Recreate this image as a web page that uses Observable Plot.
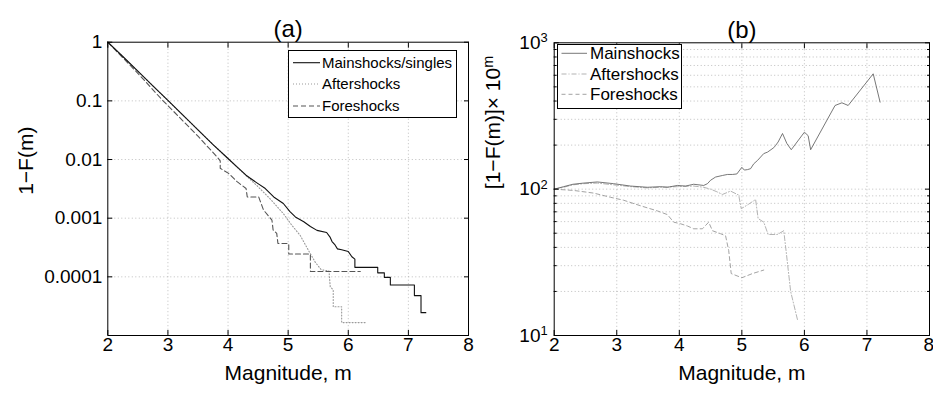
<!DOCTYPE html>
<html>
<head>
<meta charset="utf-8">
<script src="https://cdn.jsdelivr.net/npm/d3@7"></script>
<script src="https://cdn.jsdelivr.net/npm/@observablehq/plot@0.6"></script>
<style>
  html, body { margin: 0; padding: 0; background: white; }
  #wrap { position: relative; width: 933px; height: 394px; overflow: hidden; background: white;
          font-family: "Liberation Sans", Arial, Helvetica, sans-serif; }
  .panel { position: absolute; top: 0; }
  .legend { position: absolute; }
</style>
</head>
<body>
<div id="wrap"></div>
<script>
// ---------- Panel (a) data: 1-F(m) ----------
const mainA_m = [2.0,2.25,2.5,2.75,3.0,3.25,3.5,3.75,4.0,4.15,4.3,4.37,4.48,4.62,4.76,4.92,5.03,5.12,5.26,5.37,5.48,5.64,5.70,5.73,5.78,5.82,5.89,6.0,6.06,6.11,6.11,6.49,6.49,6.60,6.60,6.70,6.70,7.10,7.10,7.21,7.21,7.29];
const mainA_v = [1,0.57,0.32,0.18,0.102,0.057,0.032,0.018,0.0104,0.0075,0.0054,0.0048,0.0040,0.0032,0.0023,0.00178,0.00129,0.00105,0.00087,0.00072,0.00062,0.00057,0.00047,0.0004,0.00035,0.0003,0.00029,0.00027,0.00022,0.0002,0.000145,0.000145,0.000117,0.000117,0.000098,0.000098,0.0000724,0.0000724,0.0000479,0.0000479,0.0000245,0.0000245];
const afterA_m = [2.0,2.5,3.0,3.5,4.0,4.3,4.48,4.70,4.92,5.06,5.20,5.34,5.45,5.55,5.68,5.70,5.75,5.75,5.89,5.89,6.31];
const afterA_v = [1,0.32,0.101,0.032,0.0103,0.0053,0.0036,0.00214,0.0012,0.00076,0.00051,0.00028,0.000178,0.000132,0.000126,0.000068,0.00006,0.000031,0.000031,0.0000166,0.0000166];
const foreA_m = [2.0,2.5,2.92,3.0,3.5,3.82,3.87,3.87,4.01,4.15,4.3,4.32,4.51,4.59,4.73,4.75,4.81,4.83,5.01,5.01,5.37,5.37,6.2];
const foreA_v = [1,0.295,0.1,0.083,0.025,0.011,0.0095,0.0071,0.0058,0.0042,0.0032,0.0023,0.0023,0.00138,0.00093,0.00063,0.00055,0.00037,0.00037,0.000245,0.000245,0.000123,0.000123];

// ---------- Panel (b) data: [1-F(m)] x 10^m ----------
const mainB_m = [2.0,2.15,2.3,2.47,2.69,2.95,3.22,3.49,3.7,3.81,3.97,4.1,4.23,4.39,4.45,4.5,4.58,4.69,4.77,4.85,4.92,5.0,5.04,5.09,5.14,5.19,5.25,5.35,5.41,5.51,5.54,5.58,5.65,5.72,5.79,6.0,6.06,6.1,6.49,6.6,6.7,7.1,7.21];
const mainB_v = [100,104,108,110,112,109,105,103,104,103,106,105,108,106,109,115,121,124,126,126,127,141,135,136,138,149,157,175,179,192,199,210,240,205,186,245,232,186,373,389,373,614,393];
const afterB_m = [2.0,2.15,2.3,2.47,2.69,2.95,3.22,3.49,3.7,3.97,4.23,4.39,4.5,4.6,4.69,4.82,4.95,4.99,5.11,5.22,5.26,5.35,5.42,5.57,5.67,5.71,5.78,5.89];
const afterB_v = [100,103,107,109,110,107,104,102,103,104,105,103,100,96,92,97,91,73.5,79,85,63,59.5,49,49,52,37,20,12.8];
const foreB_m = [2.0,2.31,2.63,2.9,3.11,3.38,3.65,3.81,3.91,4.02,4.13,4.23,4.37,4.47,4.53,4.66,4.74,4.79,4.83,5.0,5.17,5.35];
const foreB_v = [100,98,94,88,84,77,71,67,59.5,58,56,53.6,53.6,59.5,52,49.6,48,38,26.5,24.8,26.5,28];

// ---------- ticks / labels ----------
const xTicks = [2,3,4,5,6,7,8];
const yTicksA = [1,0.1,0.01,0.001,0.0001];
const yLabelsA = ["1","0.1","0.01","0.001","0.0001"];
const yTicksB = [10,100,1000];
const yLabelsB = ["10^1","10^2","10^3"];
const yMinorB = [20,30,40,50,60,70,80,90,200,300,400,500,600,700,800,900];
const legendA = ["Mainshocks/singles","Aftershocks","Foreshocks"];
const legendB = ["Mainshocks","Aftershocks","Foreshocks"];

const zip = (ms, vs) => ms.map((m, i) => ({m, v: vs[i]}));
const FONT = "'Liberation Sans', Arial, Helvetica, sans-serif";
const grid = {stroke: "#9a9a9a", strokeOpacity: 0.8, strokeDasharray: "1,2.5", strokeWidth: 0.8};
const TICKFS = 19, LABELFS = 21, TITLEFS = 24;

// styles of series
const stA = [
  {stroke: "#111", strokeWidth: 1.1, strokeDasharray: null},
  {stroke: "#9a9a9a", strokeWidth: 1.1, strokeDasharray: "1,2"},
  {stroke: "#555", strokeWidth: 1.1, strokeDasharray: "5,3"}
];
const stB = [
  {stroke: "#555", strokeWidth: 0.8, strokeDasharray: null},
  {stroke: "#aaa", strokeWidth: 0.9, strokeDasharray: "5,2,1,2"},
  {stroke: "#999", strokeWidth: 0.9, strokeDasharray: "4,3"}
];

function supers(svg) {
  svg.querySelectorAll("text").forEach(t => {
    if (t.children.length === 0 && t.textContent.includes("^")) {
      const [base, sup] = t.textContent.split("^");
      t.textContent = base;
      const ts = document.createElementNS("http://www.w3.org/2000/svg", "tspan");
      ts.setAttribute("dy", "-0.5em");
      ts.setAttribute("font-size", "0.68em");
      ts.textContent = sup;
      t.appendChild(ts);
    }
  });
}

// x axis: ticks everywhere, labels 2..7 centred, last label right-aligned at the window edge
function xAxes() {
  return [
    Plot.axisX(xTicks, {anchor: "bottom", tickSize: -5, tickFormat: () => "", label: null}),
    Plot.axisX(xTicks.slice(0, -1), {anchor: "bottom", tickSize: 0, tickPadding: 2, fontSize: TICKFS, label: null}),
    Plot.axisX(xTicks.slice(-1), {anchor: "bottom", tickSize: 0, tickPadding: 2, fontSize: TICKFS, label: null, textAnchor: "end", dx: 4.5}),
    Plot.axisX(xTicks, {anchor: "top", tickSize: -5, tickFormat: () => "", label: null})
  ];
}

const wrap = document.getElementById("wrap");

// ---------- Panel (a) ----------
const plotA = Plot.plot({
  width: 480, height: 394,
  marginLeft: 107.3, marginRight: 12, marginTop: 41.7, marginBottom: 59,
  style: {fontFamily: FONT, fontSize: TICKFS + "px", color: "black", background: "transparent", overflow: "visible"},
  x: {type: "linear", domain: [2, 8], label: null},
  y: {type: "log", domain: [1e-5, 1], label: null},
  marks: [
    Plot.gridX(xTicks.slice(1, -1), grid),
    Plot.gridY(yTicksA.slice(1), grid),
    Plot.line(zip(afterA_m, afterA_v), {x: "m", y: "v", ...stA[1]}),
    Plot.line(zip(foreA_m, foreA_v), {x: "m", y: "v", ...stA[2]}),
    Plot.line(zip(mainA_m, mainA_v), {x: "m", y: "v", ...stA[0]}),
    Plot.frame({stroke: "black", strokeWidth: 1}),
    Plot.axisX(xTicks, {anchor: "bottom", tickSize: -5, tickFormat: () => "", label: null}),
    Plot.axisX(xTicks, {anchor: "bottom", tickSize: 0, tickPadding: 2, fontSize: TICKFS, label: null}),
    Plot.axisX(xTicks, {anchor: "top", tickSize: -5, tickFormat: () => "", label: null}),
    Plot.axisY(yTicksA, {anchor: "left", tickSize: -5, tickPadding: 10.5, fontSize: TICKFS, label: null,
      tickFormat: (d) => yLabelsA[yTicksA.indexOf(d)]}),
    Plot.axisY(yTicksA, {anchor: "right", tickSize: -5, tickFormat: () => "", label: null}),
    Plot.text(["(a)"], {frameAnchor: "top", dy: -22, fontSize: TITLEFS, text: d => d}),
    Plot.text(["Magnitude, m"], {frameAnchor: "bottom", dy: 44, fontSize: LABELFS, text: d => d}),
    Plot.text(["1−F(m)"], {frameAnchor: "left", dx: -82, dy: 6, rotate: -90, fontSize: LABELFS, text: d => d})
  ]
});
const divA = document.createElement("div");
divA.className = "panel"; divA.style.left = "0px";
divA.appendChild(plotA);
wrap.appendChild(divA);

// ---------- Panel (b) ----------
const plotB = Plot.plot({
  width: 473, height: 394,
  marginLeft: 93.7, marginRight: 4, marginTop: 42.3, marginBottom: 59,
  style: {fontFamily: FONT, fontSize: TICKFS + "px", color: "black", background: "transparent", overflow: "visible"},
  x: {type: "linear", domain: [2, 8], label: null},
  y: {type: "log", domain: [10, 1000], label: null},
  marks: [
    Plot.gridX(xTicks.slice(1, -1), grid),
    Plot.gridY(yMinorB.concat([100]), grid),
    Plot.line(zip(afterB_m, afterB_v), {x: "m", y: "v", ...stB[1]}),
    Plot.line(zip(foreB_m, foreB_v), {x: "m", y: "v", ...stB[2]}),
    Plot.line(zip(mainB_m, mainB_v), {x: "m", y: "v", ...stB[0]}),
    Plot.frame({stroke: "black", strokeWidth: 1}),
    ...xAxes(),
    Plot.axisY(yTicksB, {anchor: "left", tickSize: -5, tickPadding: 11.5, fontSize: TICKFS, label: null,
      tickFormat: (d) => yLabelsB[yTicksB.indexOf(d)]}),
    Plot.axisY(yTicksB, {anchor: "right", tickSize: -5, tickFormat: () => "", label: null}),
    Plot.axisY(yMinorB, {anchor: "left", tickSize: -3, tickFormat: () => "", label: null}),
    Plot.axisY(yMinorB, {anchor: "right", tickSize: -3, tickFormat: () => "", label: null}),
    Plot.text(["(b)"], {frameAnchor: "top", dy: -22, fontSize: TITLEFS, text: d => d}),
    Plot.text(["Magnitude, m"], {frameAnchor: "bottom", dy: 44, fontSize: LABELFS, text: d => d}),
    Plot.text(["[1−F(m)]× 10^m"], {frameAnchor: "left", dx: -61, rotate: -90, fontSize: LABELFS, text: d => d})
  ]
});
supers(plotB);
const divB = document.createElement("div");
divB.className = "panel"; divB.style.left = "460px";
divB.appendChild(plotB);
wrap.appendChild(divB);

// ---------- Legends ----------
function legend(left, top, w, h, names, styles, rows, seg, textX, fontSize) {
  const svg = d3.select(wrap).append("svg")
    .attr("class", "legend")
    .style("left", left + "px").style("top", top + "px")
    .attr("width", w + 2).attr("height", h + 2);
  svg.append("rect").attr("x", 0.5).attr("y", 0.5).attr("width", w).attr("height", h)
    .attr("fill", "white").attr("stroke", "black").attr("stroke-width", 1);
  names.forEach((n, i) => {
    const s = styles[i];
    svg.append("line").attr("x1", seg[0]).attr("x2", seg[1]).attr("y1", rows[i]).attr("y2", rows[i])
      .attr("stroke", s.stroke).attr("stroke-width", s.strokeWidth)
      .attr("stroke-dasharray", s.strokeDasharray);
    svg.append("text").attr("x", textX).attr("y", rows[i]).attr("dy", "0.35em")
      .attr("font-family", FONT).attr("font-size", fontSize).attr("fill", "black").text(n);
  });
}
legend(288, 50, 168, 67, legendA, stA, [12.7, 34, 56], [5, 32], 34, 15);
legend(557, 44, 124, 64, legendB, stB, [9.3, 30, 50.3], [4.5, 30], 33, 17);
</script>
</body>
</html>
